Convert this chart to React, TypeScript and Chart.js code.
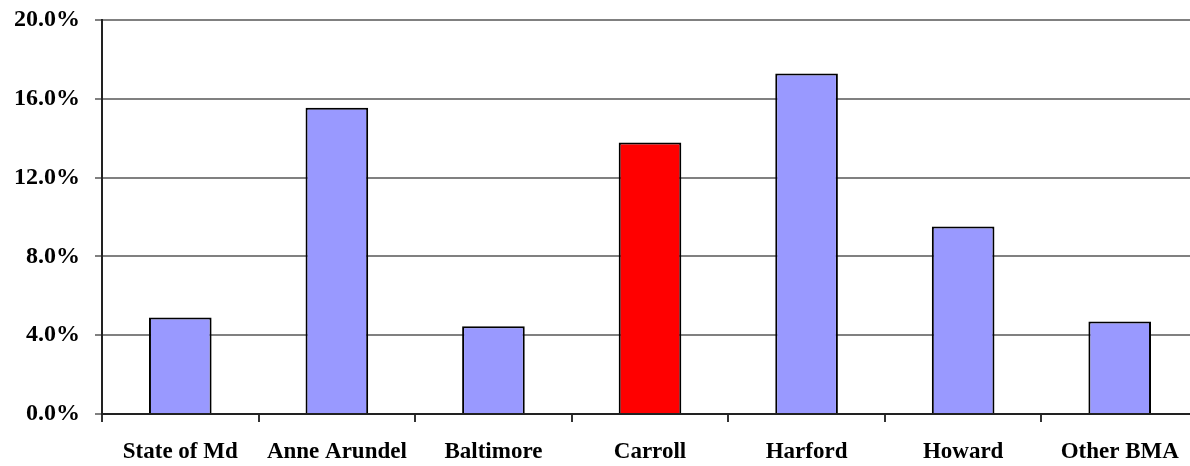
import React, { useEffect, useRef } from "react";
import { Chart, registerables } from "chart.js";

Chart.register(...registerables);

const categories = ["State of Md", "Anne Arundel", "Baltimore", "Carroll", "Harford", "Howard", "Other BMA"];
const values = [4.9, 15.55, 4.45, 13.78, 17.28, 9.52, 4.7];
const barColors = ["#9999FF", "#9999FF", "#9999FF", "#FF0000", "#9999FF", "#9999FF", "#9999FF"];
const yTicks = [0, 4, 8, 12, 16, 20];

export default function App() {
  const ref = useRef<HTMLCanvasElement | null>(null);
  useEffect(() => {
    document.body.style.margin = "0";
    const yFont = { family: "'Liberation Serif', 'Times New Roman', serif", weight: "bold" as const, size: 24 };
    const xFont = { family: "'Liberation Serif', 'Times New Roman', serif", weight: "bold" as const, size: 23 };
    const chart = new Chart(ref.current!, {
      type: "bar",
      data: {
        labels: categories,
        datasets: [
          {
            data: values,
            backgroundColor: barColors,
            borderColor: "#000000",
            borderWidth: 2,
            categoryPercentage: 1,
            barPercentage: 0.4,
          },
        ],
      },
      options: {
        animation: false,
        responsive: false,
        maintainAspectRatio: false,
        layout: { padding: { top: 20, right: 2, left: 0, bottom: 0 } },
        plugins: { legend: { display: false }, tooltip: { enabled: false } },
        scales: {
          x: {
            grid: { offset: true, drawOnChartArea: false, drawTicks: true, tickLength: 8, color: "#333333", lineWidth: 2 },
            border: { color: "#222222", width: 2 },
            ticks: { color: "#000000", font: xFont, padding: 16, maxRotation: 0, autoSkip: false },
            afterFit: (s: any) => { s.height = 52; s.paddingLeft = 0; s.paddingRight = 0; },
          },
          y: {
            min: 0,
            max: 20,
            afterBuildTicks: (s: any) => { s.ticks = yTicks.map((v) => ({ value: v })); },
            grid: { color: "#808080", lineWidth: 2, tickLength: 7 },
            border: { color: "#222222", width: 2 },
            ticks: { color: "#000000", font: yFont, padding: 15, callback: (v: any) => Number(v).toFixed(1) + "%" },
            afterFit: (s: any) => { s.width = 102; s.paddingTop = 0; s.paddingBottom = 0; },
          },
        },
      },
    });
    return () => chart.destroy();
  }, []);
  return (
    <div style={{ position: "fixed", left: 0, top: 0, width: 1190, height: 466, overflow: "hidden" }}>
      <canvas ref={ref} width={1200} height={466} style={{ width: 1200, height: 466 }} />
    </div>
  );
}
